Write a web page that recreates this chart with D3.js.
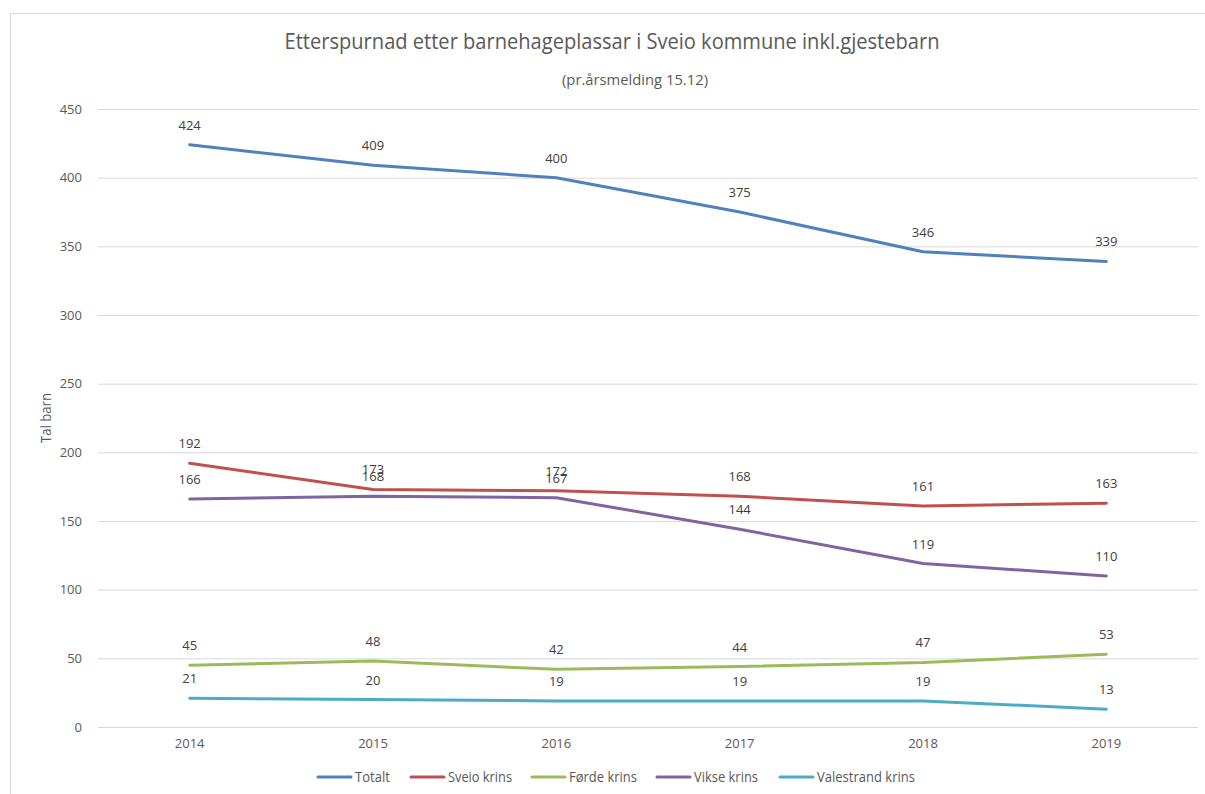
<!DOCTYPE html>
<html><head><meta charset="utf-8">
<script src="https://cdn.jsdelivr.net/npm/d3@7"></script>
<style>body{margin:0;background:#fff;} svg{display:block;} text{font-family:"Open Sans",sans-serif;}</style>
</head><body>
<svg id="c" width="1205" height="794"></svg>
<script>
const years = ["2014","2015","2016","2017","2018","2019"];
const seriesNames = ["Totalt","Sveio krins","Førde krins","Vikse krins","Valestrand krins"];
const totalt = [424,409,400,375,346,339];
const sveio = [192,173,172,168,161,163];
const forde = [45,48,42,44,47,53];
const vikse = [166,168,167,144,119,110];
const valestrand = [21,20,19,19,19,13];
const yTicks = [0,50,100,150,200,250,300,350,400,450];
const colors = ["#4f81bd","#c0504d","#9bbb59","#8064a2","#4bacc6"];
const series = [totalt, sveio, forde, vikse, valestrand].map((v,i)=>({name:seriesNames[i], values:v, color:colors[i]}));

const svg = d3.select("#c");
svg.append("rect").attr("x",10.5).attr("y",13.5).attr("width",1205).attr("height",800)
  .attr("fill","none").attr("stroke","#d9d9d9");

const x = d3.scaleBand().domain(years).range([98,1198]);
const y = d3.scaleLinear().domain([0,450]).range([727,109]);
const cx = d => x(d)+x.bandwidth()/2;

const yAxis = d3.axisLeft(y).tickValues(yTicks).tickSize(-(1198-98)).tickPadding(16);
const gy = svg.append("g").attr("transform","translate(98,0)").call(yAxis);
gy.select(".domain").remove();
gy.selectAll(".tick line").attr("stroke","#d9d9d9").attr("stroke-width",1);
gy.selectAll(".tick text").attr("fill","#595959").style("font-size","13px").style("font-family","'Open Sans',sans-serif");

const xAxis = d3.axisBottom(x).tickSize(0).tickPadding(12);
const gx = svg.append("g").attr("transform","translate(0,727)").call(xAxis);
gx.select(".domain").remove();
gx.selectAll(".tick text").attr("fill","#595959").style("font-size","13px").style("font-family","'Open Sans',sans-serif");

const line = d3.line().x((d,i)=>cx(years[i])).y(d=>y(d));
series.forEach(s=>{
  svg.append("path").datum(s.values).attr("d",line).attr("fill","none")
    .attr("stroke",s.color).attr("stroke-width",3).attr("stroke-linecap","round").attr("stroke-linejoin","round");
});
series.forEach(s=>{
  svg.append("g").selectAll("text").data(s.values).join("text")
    .attr("x",(d,i)=>cx(years[i])).attr("y",d=>y(d)-15)
    .attr("text-anchor","middle").attr("fill","#404040")
    .style("font-size","13px")
    .text(d=>d);
});

svg.append("text").attr("x",612).attr("y",49).attr("text-anchor","middle")
  .attr("fill","#595959").style("font-size","21px")
  .attr("textLength",655).attr("lengthAdjust","spacingAndGlyphs")
  .text("Etterspurnad etter barnehageplassar i Sveio kommune inkl.gjestebarn");
svg.append("text").attr("x",635).attr("y",85).attr("text-anchor","middle")
  .attr("fill","#595959").style("font-size","14px")
  .attr("textLength",146).attr("lengthAdjust","spacingAndGlyphs")
  .text("(pr.årsmelding 15.12)");
svg.append("text").attr("transform","translate(51,418) rotate(-90)").attr("text-anchor","middle")
  .attr("fill","#595959").style("font-size","14px")
  .attr("textLength",50).attr("lengthAdjust","spacingAndGlyphs").text("Tal barn");

const legX = [318,411,532,657,780];
const legW = [35,64,68,64,98];
const lg = svg.append("g");
series.forEach((s,i)=>{
  lg.append("line").attr("x1",legX[i]).attr("x2",legX[i]+33).attr("y1",777).attr("y2",777)
    .attr("stroke",s.color).attr("stroke-width",3).attr("stroke-linecap","round");
  lg.append("text").attr("x",legX[i]+37).attr("y",782).attr("fill","#595959")
    .style("font-size","14px").attr("textLength",legW[i]).attr("lengthAdjust","spacingAndGlyphs").text(s.name);
});
</script>
</body></html>
